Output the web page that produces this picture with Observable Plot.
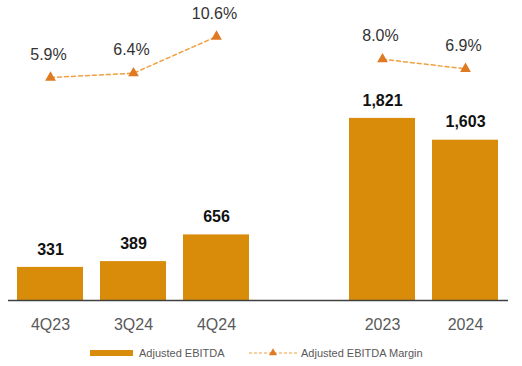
<!DOCTYPE html>
<html>
<head>
<meta charset="utf-8">
<script src="https://cdn.jsdelivr.net/npm/d3@7"></script>
<script src="https://cdn.jsdelivr.net/npm/@observablehq/plot@0.6"></script>
<style>
  html, body { margin: 0; padding: 0; background: #fff; }
  #wrap { position: relative; width: 522px; height: 366px; font-family: "Liberation Sans", Arial, sans-serif; }
  #bars, #line { position: absolute; left: 0; top: 0; }
  #legend { position: absolute; left: 0; top: 340px; width: 522px; height: 26px; font-size: 11px; color: #595959; }
  #legend .item { position: absolute; top: 0; height: 26px; line-height: 26px; white-space: nowrap; }
</style>
</head>
<body>
<div id="wrap">
  <div id="bars"></div>
  <div id="line"></div>
  <div id="legend"></div>
</div>
<script>
const periods = ["4Q23", "3Q24", "4Q24", "2023", "2024"];
const ebitda = [331, 389, 656, 1821, 1603];
const ebitdaLabels = ["331", "389", "656", "1,821", "1,603"];
const margin = [5.9, 6.4, 10.6, 8.0, 6.9];
const marginLabels = ["5.9%", "6.4%", "10.6%", "8.0%", "6.9%"];
const groups = ["Quarter", "Quarter", "Quarter", "Year", "Year"];
const xDomain = ["4Q23", "3Q24", "4Q24", " ", "2023", "2024"];
const seriesNames = ["Adjusted EBITDA", "Adjusted EBITDA Margin"];

const barColor = "#D98C0A";
const markerColor = "#E07A22";
const dashColor = "#F0A040";

const data = periods.map((p, i) => ({
  period: p, ebitda: ebitda[i], ebitdaLabel: ebitdaLabels[i],
  margin: margin[i], marginLabel: marginLabels[i], group: groups[i]
}));

const W = 522, H = 340;
const xOpts = { type: "band", domain: xDomain, paddingInner: 0.2, paddingOuter: 0.1 };
const common = { width: W, height: H, marginLeft: 8, marginRight: 14, style: { fontFamily: "'Liberation Sans', Arial, sans-serif", background: "transparent" } };

const barsPlot = Plot.plot({
  ...common,
  marginTop: 0,
  marginBottom: 40,
  x: { ...xOpts, label: null },
  y: { domain: [0, 3000], axis: null },
  marks: [
    Plot.barY(data, { x: "period", y: "ebitda", fill: barColor }),
    Plot.ruleY([0], { stroke: "#404040", strokeWidth: 1.5 }),
    Plot.text(data, { x: "period", y: "ebitda", text: "ebitdaLabel", dy: -18, fontSize: 16, fontWeight: "bold", fill: "#111" }),
    Plot.axisX({ tickSize: 0, tickPadding: 18, fontSize: 16, color: "#595959", label: null })
  ]
});
document.getElementById("bars").appendChild(barsPlot);

const linePlot = Plot.plot({
  ...common,
  marginTop: 0,
  marginBottom: H - 128.5,
  x: { ...xOpts, axis: null },
  y: { domain: [0, 128.5 / 8.72], axis: null },
  marks: [
    Plot.lineY(data, { x: "period", y: "margin", z: "group", stroke: dashColor, strokeWidth: 1.5, strokeDasharray: "4,3" }),
    Plot.dot(data, { x: "period", y: "margin", symbol: "triangle", r: 4, fill: markerColor, stroke: "none" }),
    Plot.text(data, { x: "period", y: "margin", text: "marginLabel", dy: -23, dx: -2, fontSize: 16, fill: "#333" })
  ]
});
document.getElementById("line").appendChild(linePlot);

// Legend
const legend = d3.select("#legend");
const item1 = legend.append("div").attr("class", "item").style("left", "90px");
const s1 = item1.append("svg").attr("width", 44).attr("height", 26).style("vertical-align", "top");
s1.append("rect").attr("x", 0).attr("y", 10).attr("width", 43).attr("height", 6).attr("fill", barColor);
item1.append("span").style("margin-left", "5px").style("vertical-align", "top").text(seriesNames[0]);

const item2 = legend.append("div").attr("class", "item").style("left", "249px");
const s2 = item2.append("svg").attr("width", 49).attr("height", 26).style("vertical-align", "top");
s2.append("line").attr("x1", 0).attr("x2", 48).attr("y1", 13).attr("y2", 13)
  .attr("stroke", dashColor).attr("stroke-width", 1.2).attr("stroke-dasharray", "3,2");
s2.append("path").attr("d", d3.symbol(d3.symbolTriangle, 28)()).attr("transform", "translate(24,13)").attr("fill", markerColor);
item2.append("span").style("margin-left", "3px").style("vertical-align", "top").text(seriesNames[1]);
</script>
</body>
</html>
